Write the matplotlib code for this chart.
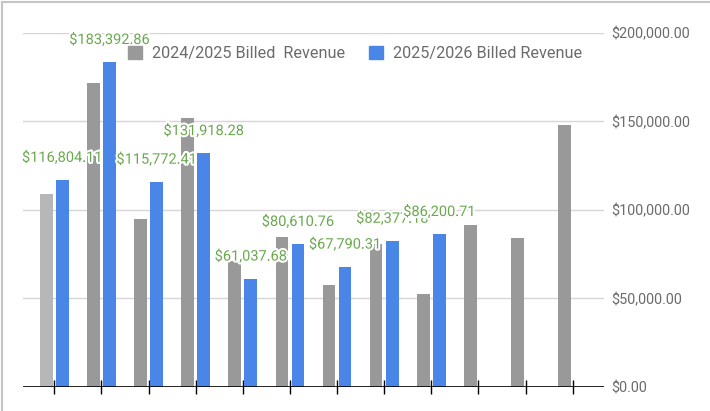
import numpy as np
import matplotlib
matplotlib.use("Agg")
import matplotlib.pyplot as plt
import matplotlib.patheffects as pe
from matplotlib.lines import Line2D

plt.rcParams['font.family'] = ['Roboto', 'DejaVu Sans']

# values
rev_2425 = [108700, 171600, 94600, 151600, 71000, 84600, 57300, 80800, 52500, 91200, 83900, 147700]
rev_2526 = [116804.11, 183392.86, 115772.41, 131918.28, 61037.68, 80610.76, 67790.31, 82377.18, 86200.71]
label_2425 = "2024/2025 Billed  Revenue"
label_2526 = "2025/2026 Billed Revenue"
y_ticks = [0, 50000, 100000, 150000, 200000]

grey = "#999999"
grey_first = "#b7b7b7"
blue = "#4a86e8"
green = "#6aa84f"
text_grey = "#6b6b6b"

fig = plt.figure(figsize=(7.1, 4.11), dpi=100)
ax = fig.add_axes([0.032, 0.0591, 0.819, 0.8613])

x = np.arange(len(rev_2425))
w = 0.27
off = 0.17

grey_colors = [grey_first] + [grey] * (len(rev_2425) - 1)
ax.bar(x - off, rev_2425, width=w, color=grey_colors, zorder=2)
xb = np.arange(len(rev_2526))
ax.bar(xb + off, rev_2526, width=w, color=blue, zorder=2)

# data labels on the blue bars
for xi, v in zip(xb, rev_2526):
    ax.annotate(f"${v:,.2f}", (xi + off, v), xytext=(0, 16), textcoords="offset points",
                ha="center", va="center", color=green, fontsize=10.5, zorder=5,
                path_effects=[pe.withStroke(linewidth=3, foreground="white")])

ax.set_xlim(-0.67, len(rev_2425) - 1 + 0.67)
ax.set_ylim(0, 200000)
ax.set_yticks(y_ticks)
ax.set_yticklabels([f"${v:,.2f}" for v in y_ticks])
ax.yaxis.tick_right()
ax.tick_params(axis="y", length=0, pad=5.0, labelsize=10.4, labelcolor=text_grey)
ax.grid(axis="y", color="#d6d6d6", linewidth=1, zorder=0)
ax.axhline(0, color="black", linewidth=1.2, zorder=3)

ax.set_xticks(x)
ax.set_xticklabels([])
ax.tick_params(axis="x", direction="inout", length=9.5, width=1, color="black")

for s in ax.spines.values():
    s.set_visible(False)

handles = [plt.Rectangle((0, 0), 1, 1, color=grey), plt.Rectangle((0, 0), 1, 1, color=blue)]
fig.legend(handles, [label_2425, label_2526], loc="center", bbox_to_anchor=(0.5, 0.87),
           ncol=2, frameon=False, fontsize=11.7, labelcolor=text_grey,
           handlelength=0.85, handleheight=0.85, handletextpad=0.6, columnspacing=1.5)

# thin border at the top and left of the image
fig.add_artist(Line2D([0.003, 0.003], [0, 0.995], transform=fig.transFigure, color="#c4c4c4", lw=1.5))
fig.add_artist(Line2D([0.003, 1], [0.995, 0.995], transform=fig.transFigure, color="#c4c4c4", lw=1.5))

fig.savefig("out.png", dpi=100)
